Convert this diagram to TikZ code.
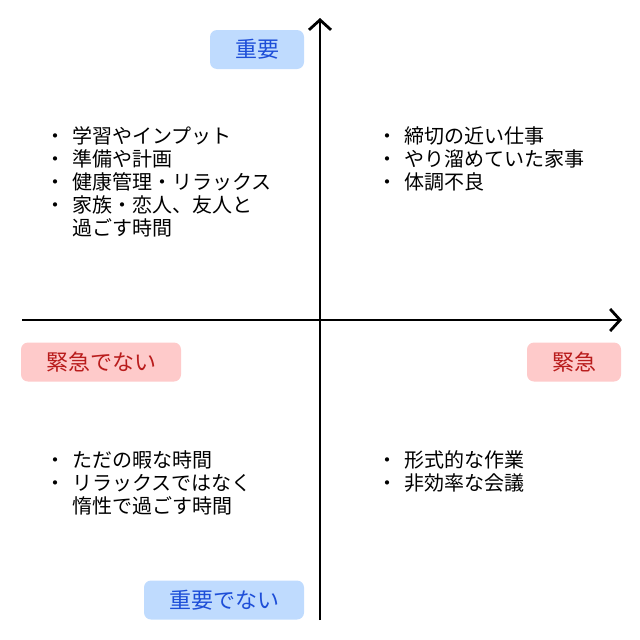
\documentclass[tikz,border=0pt]{standalone}
\usepackage{fontspec}
\setmainfont{Noto Sans CJK JP}
\usetikzlibrary{arrows.meta}
\definecolor{impbg}{HTML}{BFDBFE}
\definecolor{impfg}{HTML}{1D4ED8}
\definecolor{urgbg}{HTML}{FECACA}
\definecolor{urgfg}{HTML}{B91C1C}
\newcommand{\itm}[1]{\makebox[34pt][c]{・}#1}
\newcommand{\cont}[1]{\hspace*{34pt}#1}
\begin{document}
\begin{tikzpicture}[x=1pt, y=-1pt,
    axis/.style={line width=2.8pt, -{Straight Barb[length=10pt,width=22pt]}},
    tagbox/.style={rounded corners=7pt, minimum height=39pt, inner xsep=25pt, font=\fontsize{22}{22}\selectfont},
    imp/.style={tagbox, fill=impbg, text=impfg},
    urg/.style={tagbox, fill=urgbg, text=urgfg},
    items/.style={anchor=base west, inner sep=0pt, font=\fontsize{20}{23}\selectfont}]
            \useasboundingbox (0,0) rectangle (640,640);
            % Axes
            \coordinate (xl) at (22,320);
            \coordinate (xr) at (622,320);
            \coordinate (yb) at (320,620);
            \coordinate (yt) at (320,18);
            \draw[axis] (xl) -- (xr);
            \draw[axis] (yb) -- (yt);
            % Axis labels
            \node[imp] (imp) at (257,49.5) {重要};
            \node[imp] (impnot) at (224,600) {重要でない};
            \node[urg] (urgnot) at (101,362) {緊急でない};
            \node[urg] (urg) at (574,362) {緊急};
            % Quadrants
            \node[items] (q2) at (38,143) {\parbox[t]{260pt}{\itm{学習やインプット}\\
                \itm{準備や計画}\\
                \itm{健康管理・リラックス}\\
                \itm{家族・恋人、友人と}\\
                \cont{過ごす時間}}};
            \node[items] (q1) at (370,143) {\parbox[t]{260pt}{\itm{締切の近い仕事}\\
                \itm{やり溜めていた家事}\\
                \itm{体調不良}}};
            \node[items] (q3) at (38,467) {\parbox[t]{260pt}{\itm{ただの暇な時間}\\
                \itm{リラックスではなく}\\
                \cont{惰性で過ごす時間}}};
            \node[items] (q4) at (370,467) {\parbox[t]{260pt}{\itm{形式的な作業}\\
                \itm{非効率な会議}}};
          \end{tikzpicture}
\end{document}
